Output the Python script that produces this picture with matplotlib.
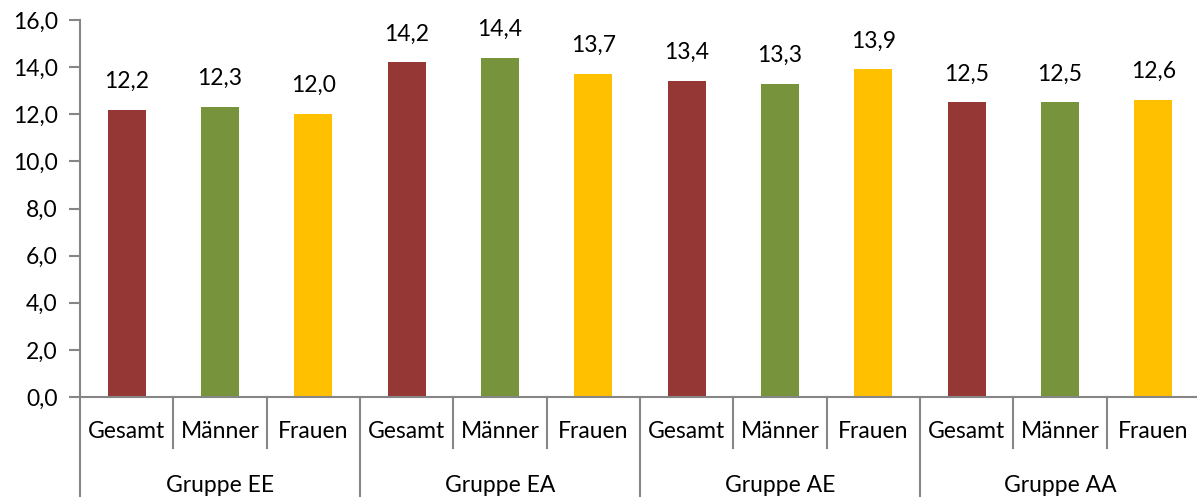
import matplotlib
matplotlib.use("Agg")
import matplotlib.pyplot as plt
from matplotlib.transforms import blended_transform_factory

plt.rcParams['font.family'] = ['Lato', 'DejaVu Sans']

groups = ['Gruppe EE', 'Gruppe EA', 'Gruppe AE', 'Gruppe AA']
categories = ['Gesamt', 'Männer', 'Frauen']
values = [12.2, 12.3, 12.0,
          14.2, 14.4, 13.7,
          13.4, 13.3, 13.9,
          12.5, 12.5, 12.6]
colors = ['#953735', '#77933C', '#FFC000']

W, H = 1197, 497
fs = 16.5
fig = plt.figure(figsize=(W / 100, H / 100), dpi=100)
ax = fig.add_axes([80 / W, 100 / H, 1120 / W, 377 / H])

x = list(range(len(values)))
bar_colors = [colors[i % 3] for i in x]
ax.bar(x, values, width=0.41, color=bar_colors)

for xi, v in zip(x, values):
    ax.annotate(f'{v:.1f}'.replace('.', ','), (xi, v), xytext=(0, 13),
                textcoords='offset points', ha='center', va='bottom', fontsize=fs)

ax.set_xlim(-0.5, len(values) - 0.5)
ax.set_ylim(0, 16)
ax.set_yticks(range(0, 17, 2))
ax.set_yticklabels([f'{t:.1f}'.replace('.', ',') for t in range(0, 17, 2)], fontsize=fs)
ax.set_xticks([])

axis_col = '#868686'
for s in ['top', 'right']:
    ax.spines[s].set_visible(False)
ax.spines['left'].set_color(axis_col)
ax.spines['bottom'].set_color(axis_col)
ax.spines['left'].set_linewidth(1.5)
ax.spines['bottom'].set_linewidth(1.5)
ax.tick_params(axis='y', color=axis_col, length=8, width=1.5, pad=8)

# two-level category axis
trans = blended_transform_factory(ax.transData, ax.transAxes)
px = 1 / 377.0
for i in range(len(values)):
    xb = i - 0.5
    if i % 3 == 0:
        ax.plot([xb, xb], [0, -100 * px], transform=trans, color=axis_col,
                lw=1.5, clip_on=False)
    else:
        ax.plot([xb, xb], [0, -51 * px], transform=trans, color=axis_col,
                lw=1.5, clip_on=False)
    ax.text(i, -35 * px, categories[i % 3], transform=trans, ha='center',
            va='center', fontsize=fs)
for g, name in enumerate(groups):
    ax.text(g * 3 + 1, -88 * px, name, transform=trans, ha='center',
            va='center', fontsize=fs)

fig.savefig('out.png', dpi=100)
